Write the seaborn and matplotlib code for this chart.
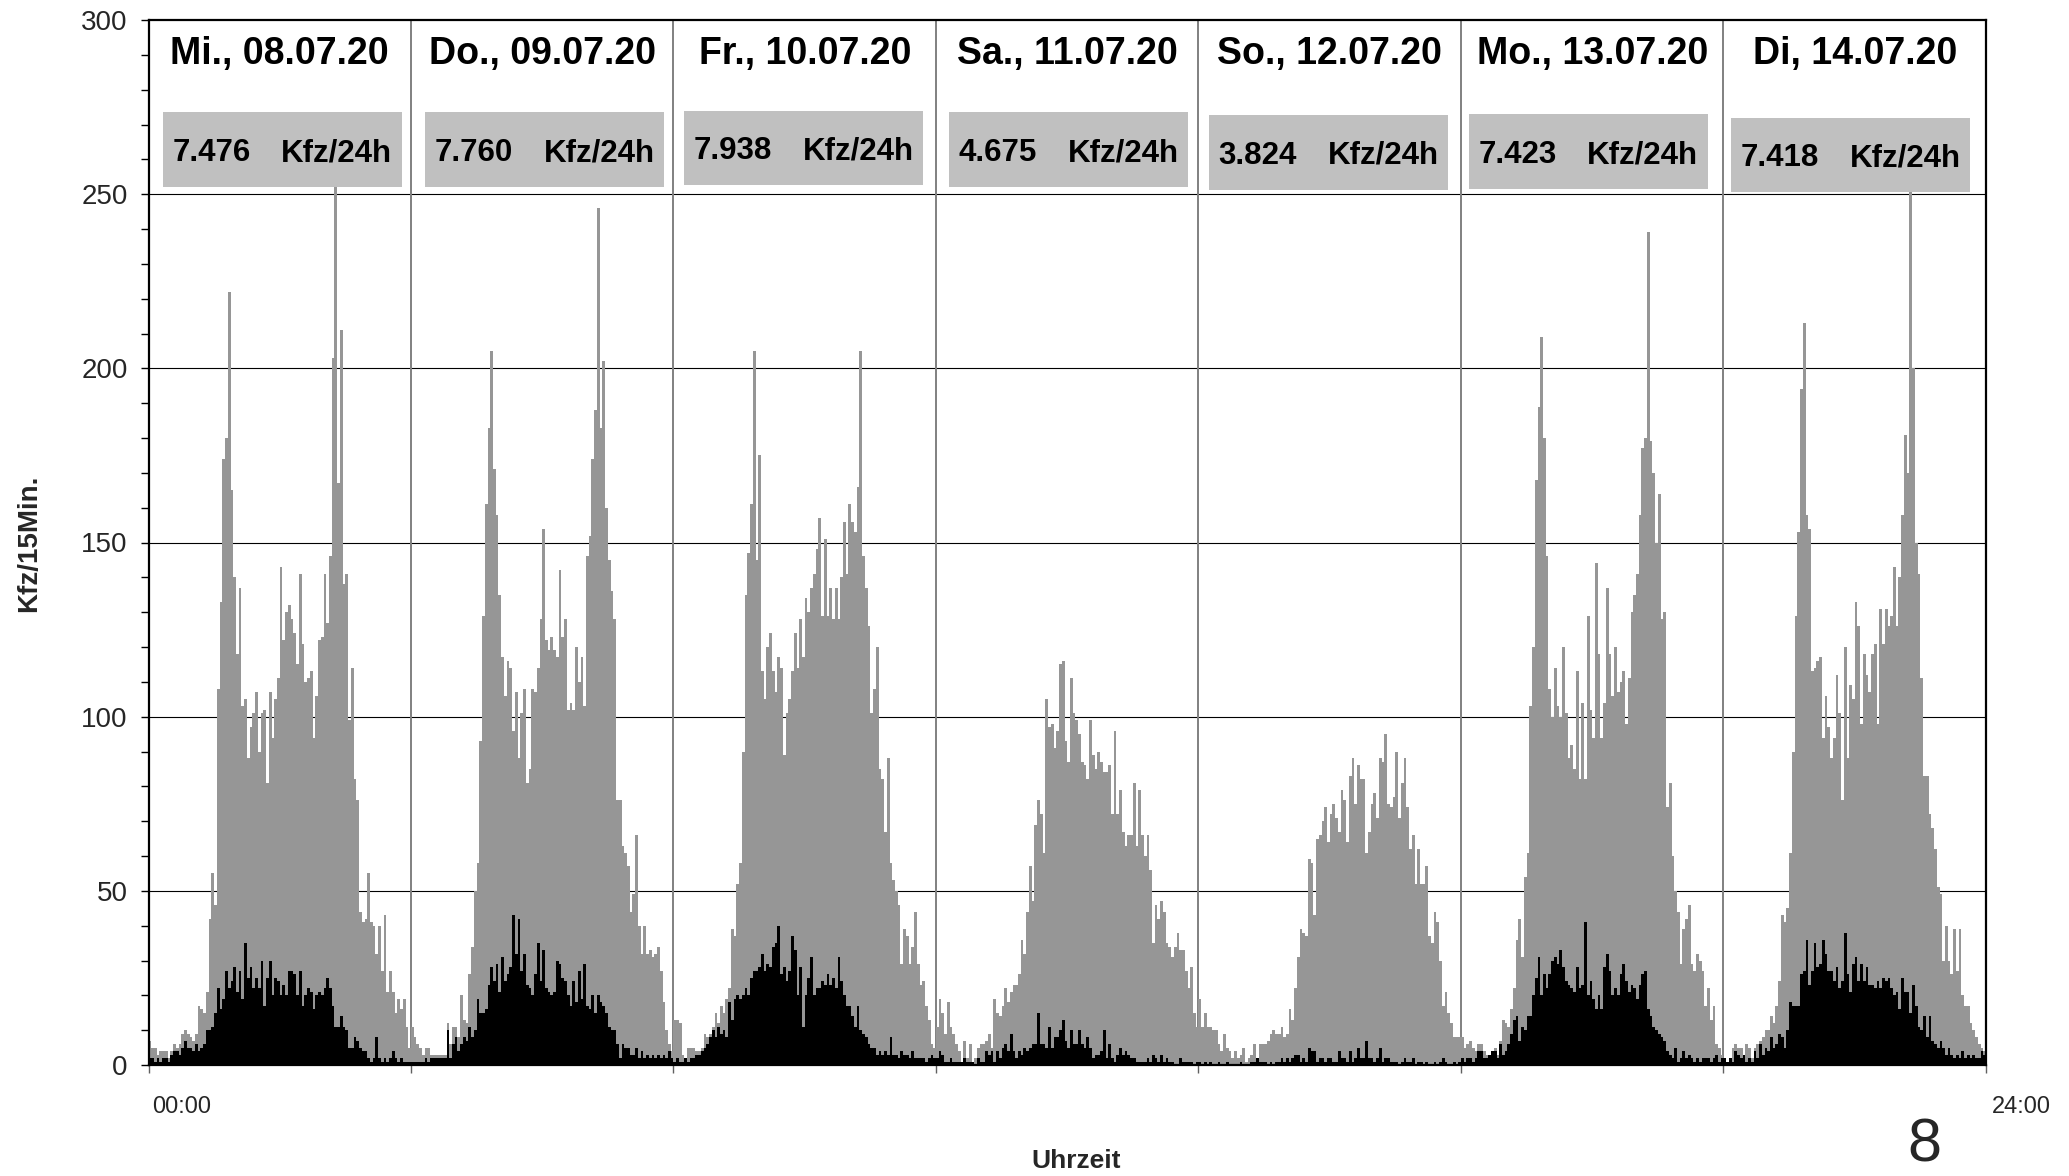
import numpy as np
import pandas as pd
import matplotlib
matplotlib.use("Agg")
import matplotlib.pyplot as plt
import seaborn as sns
from matplotlib.patches import Rectangle
from matplotlib.ticker import MultipleLocator

# ---------------- data ----------------
days = ["Mi., 08.07.20", "Do., 09.07.20", "Fr., 10.07.20", "Sa., 11.07.20",
        "So., 12.07.20", "Mo., 13.07.20", "Di, 14.07.20"]
daily_totals = ["7.476", "7.760", "7.938", "4.675", "3.824", "7.423", "7.418"]
daily_unit = "Kfz/24h"
y_label = "Kfz/15Min."
x_label = "Uhrzeit"
x_start_label = "00:00"
x_end_label = "24:00"
page_number = "8"

# total vehicles per 15 minutes (grey), 96 intervals per day
kfz_mi = [7, 5, 5, 3, 4, 4, 4, 2, 4, 6, 5, 6, 9, 10, 9, 8, 7, 9, 17, 16, 15, 21,
          42, 55, 46, 108, 133, 174, 180, 222, 165, 140, 118, 137,
          103, 105, 88, 97, 101, 107, 90, 101, 102, 81, 107, 94, 105, 111,
          143, 122, 130, 132, 128, 124, 115, 141, 121, 110, 111, 113,
          94, 106, 122, 123, 141, 127, 146, 203, 252, 167, 211, 138, 141, 99, 114, 82,
          76, 44, 41, 42, 55, 41, 40, 32, 40, 27, 43, 21, 27, 21, 15, 19, 16, 19, 11, 5]
kfz_do = [11, 8, 6, 5, 3, 5, 5, 3, 3, 3, 3, 3, 3, 12,
          6, 11, 11, 8, 20, 13, 12, 26, 34, 50, 58, 93, 129, 161, 183, 205,
          171, 158, 135, 117, 106, 116, 114, 96, 107, 88,
          101, 108, 81, 85, 108, 107, 114, 128, 154,
          122, 119, 123, 119, 117, 142, 123, 128,
          102, 104, 102, 120, 110, 117, 103, 146, 152, 174, 188, 246,
          183, 202, 160, 145, 136, 128, 76, 76, 63, 61, 57, 44, 49, 66, 40, 32, 40, 32,
          33, 31, 32, 34, 27, 18, 10, 6, 4]
kfz_fr = [13, 13, 12, 3, 2, 5, 5, 5, 4, 4, 5, 9, 8, 9,
          11, 15, 12, 17, 15, 19, 22, 39, 37, 52, 58, 90, 135, 147, 161,
          205, 145, 175, 113, 105, 120, 124, 113, 107, 117,
          114, 89, 101, 105, 113, 124, 114, 128, 117, 134,
          130, 137, 141, 148, 157, 129, 151, 129, 137, 128,
          137, 128, 140, 156, 141, 161, 156, 153, 166, 205,
          146, 137, 126, 101, 108, 120, 85, 82, 67, 88, 58, 53, 50, 46, 29, 39, 37, 29,
          34, 44, 29, 23, 24, 17, 13, 6, 5]
kfz_sa = [11, 19, 15, 9, 18, 11, 9, 6, 4,
          1, 7, 2, 6, 1, 2, 5, 6, 6, 7,
          9, 5, 19, 15, 14, 17, 22, 18, 21, 23,
          23, 26, 36, 32, 44, 57, 47, 69, 76, 72,
          61, 105, 97, 98, 91, 96, 115, 116, 93, 87,
          111, 101, 99, 95, 87, 86, 82, 99, 89, 85,
          90, 87, 84, 84, 86, 72, 96, 72, 79, 67,
          63, 66, 66, 81, 63, 79, 66, 60, 66, 56,
          35, 46, 42, 47, 44, 35, 34, 31, 34,
          38, 33, 33, 27, 22, 28, 15, 11]
kfz_so = [19, 11, 15, 11, 11, 10, 10, 6, 4, 9,
          5, 4, 2, 4, 2, 3, 5, 1, 2,
          3, 6, 2, 6, 6, 6, 7, 9, 10, 9,
          9, 11, 8, 9, 16, 13, 22, 31, 39, 38,
          37, 59, 58, 43, 65, 66, 70, 74, 64, 72,
          75, 71, 67, 79, 76, 64, 83, 88, 75, 86,
          82, 82, 61, 67, 75, 78, 71, 88, 87, 95,
          75, 74, 77, 90, 71, 81, 88, 74, 62, 66,
          52, 62, 52, 52, 57, 37, 35, 44, 41, 30,
          17, 21, 15, 12, 8, 8, 8]
kfz_mo = [8, 5, 6, 7, 5, 4, 6, 6, 4, 3,
          3, 4, 5, 3, 7, 13, 12, 11, 16, 22,
          36, 42, 31, 54, 61, 103, 120, 168, 189, 209,
          180, 146, 108, 100, 114, 103, 100, 120, 101, 88,
          92, 85, 113, 82, 104, 82, 129, 102, 94,
          144, 118, 94, 104, 137, 118, 106, 120, 107,
          110, 113, 98, 111, 130, 135, 141, 158, 177, 180,
          239, 179, 170, 150, 164, 128, 130, 74, 81, 60,
          50, 44, 29, 39, 42, 46, 29, 27, 32, 30,
          27, 17, 22, 13, 17, 6, 5, 3]
kfz_di = [2, 1, 2, 5, 6, 5, 5, 3, 6, 5,
          2, 5, 6, 7, 8, 10, 10, 14, 12, 17,
          24, 43, 41, 45, 61, 90, 129, 153, 194, 213,
          158, 154, 113, 114, 116, 117, 94, 106, 97, 88,
          94, 112, 101, 76, 120, 88, 109, 105, 133,
          126, 98, 118, 112, 107, 118, 121, 98, 131, 121,
          131, 126, 129, 143, 126, 140, 158, 181, 170, 252,
          200, 150, 141, 111, 83, 83, 72, 68, 62,
          51, 49, 30, 40, 30, 26, 39, 27, 39, 20,
          17, 17, 12, 10, 8, 6, 5, 4]

# heavy vehicles per 15 minutes (black)
sv_mi = [2, 2, 1, 2, 1, 2, 2, 1, 3, 4, 4, 3, 5, 7, 5, 5, 4, 6, 4, 5,
         6, 10, 10, 11, 15, 22, 16, 19, 27, 22, 24, 28, 21, 27, 19, 35, 25, 28, 22, 25,
         22, 30, 17, 25, 30, 20, 25, 24, 20, 23, 20, 27, 27, 26, 20, 27,
         17, 20, 22, 21, 16, 20, 21, 20, 22, 25, 22, 17, 11, 11, 14, 11, 10, 5, 5, 8,
         7, 5, 4, 4, 2, 1, 2, 8, 2, 1, 2, 1, 2, 4, 2, 1, 2, 1, 1, 1]
sv_do = [1, 1, 1, 1, 1, 2, 1, 2, 2, 2, 2, 2, 2, 10,
         2, 6, 8, 4, 6, 8, 7, 11, 8, 10,
         19, 15, 15, 16, 23, 28, 24, 29, 21, 31,
         24, 26, 28, 43, 32, 42, 27, 32, 23, 22,
         20, 26, 35, 24, 33, 22, 21, 20, 21,
         30, 29, 25, 24, 20, 17, 24, 18, 27,
         19, 29, 17, 16, 20, 15, 20, 18, 17, 15,
         11, 10, 10, 6, 2, 6, 5, 5, 3, 3,
         5, 2, 4, 2, 3, 2, 3, 2, 3,
         2, 3, 2, 4, 2]
sv_fr = [1, 2, 1, 1, 2, 1, 2, 2, 3,
         3, 4, 5, 6, 8, 10, 8, 11, 9, 10,
         8, 18, 13, 19, 20, 19, 20, 22, 20, 25,
         27, 27, 28, 32, 27, 29, 28, 34, 35, 40,
         26, 28, 24, 27, 37, 33, 20, 28, 11, 20,
         25, 31, 20, 22, 22, 24, 23, 26, 23,
         25, 22, 31, 24, 20, 17, 17, 14, 11, 17,
         10, 9, 8, 6, 5, 5, 3, 4, 3, 4,
         3, 8, 3, 3, 2, 4, 3, 3, 2, 4,
         2, 2, 2, 2, 1, 2, 3, 2]
sv_sa = [2, 4, 3, 1, 1, 2, 1, 1, 1,
         1, 2, 1, 1, 1, 0, 2, 1, 1, 4,
         3, 4, 1, 4, 2, 5, 6, 4, 9, 4,
         2, 4, 3, 5, 4, 5, 6, 6, 15, 6,
         6, 5, 11, 5, 8, 8, 10, 13, 7, 5,
         10, 6, 6, 10, 6, 5, 8, 5, 2, 3,
         3, 4, 10, 2, 6, 2, 1, 3, 5, 3,
         4, 3, 2, 2, 1, 1, 1, 1, 2, 1,
         3, 2, 1, 3, 1, 2, 1, 1, 0, 0,
         2, 1, 1, 1, 1, 0, 1]
sv_so = [1, 0, 1, 0, 1, 0, 0, 1, 0, 0, 1, 0, 0, 0, 0, 1, 0, 0, 0, 1, 1,
         2, 1, 1, 1, 0, 1, 0, 1, 1, 2, 1, 2, 1, 2, 3, 3, 1, 2, 1, 5,
         4, 4, 1, 2, 2, 1, 2, 2, 1, 1, 4, 2, 2, 1, 4, 1, 2, 5, 2, 2,
         7, 2, 2, 1, 2, 5, 1, 2, 2, 1, 1, 1, 0, 1, 2, 1, 1, 2, 0, 1,
         1, 0, 1, 0, 0, 1, 0, 1, 2, 1, 0, 0, 1, 0, 1]
sv_mo = [2, 1, 2, 2, 1, 2, 4, 4, 2,
         2, 3, 4, 4, 2, 6, 3, 4, 6, 9,
         13, 14, 7, 11, 10, 14, 14, 20, 25, 31,
         20, 26, 22, 26, 30, 31, 29, 33, 28, 24,
         23, 22, 21, 28, 22, 23, 41, 20, 24, 19,
         16, 20, 16, 28, 32, 27, 20, 22, 20, 26,
         29, 24, 21, 23, 22, 19, 23, 26, 27, 16,
         14, 11, 10, 9, 8, 7, 4, 3, 2,
         5, 1, 2, 4, 2, 3, 2, 1, 2, 1,
         2, 2, 2, 1, 2, 3, 1, 2]
sv_di = [2, 1, 2, 1, 4, 3, 2, 3, 1, 2,
         1, 4, 2, 6, 3, 5, 4, 8, 5, 6,
         9, 8, 5, 10, 18, 17, 17, 17, 26, 27,
         36, 23, 27, 35, 28, 29, 36, 32, 27, 27,
         24, 28, 22, 24, 38, 26, 21, 29, 31,
         24, 29, 24, 28, 23, 23, 22, 24, 22, 25,
         24, 25, 22, 20, 21, 16, 25, 21, 21, 15,
         23, 17, 11, 10, 14, 8, 14, 7, 6,
         5, 7, 5, 3, 5, 3, 2, 3, 2, 4,
         2, 3, 2, 3, 2, 2, 4, 3]

kfz_days = [kfz_mi, kfz_do, kfz_fr, kfz_sa, kfz_so, kfz_mo, kfz_di]
sv_days = [sv_mi, sv_do, sv_fr, sv_sa, sv_so, sv_mo, sv_di]
lens = [(len(a), len(b)) for a, b in zip(kfz_days, sv_days)]
assert all(a == 96 and b == 96 for a, b in lens), lens

N = 96
rows = []
for d, (k, s) in enumerate(zip(kfz_days, sv_days)):
    for i in range(N):
        rows.append({"pos": d * N + i + 0.5, "kfz": k[i], "sv": s[i]})
df = pd.DataFrame(rows)

# layout of the grey total boxes (offset from day start in intervals, bottom value)
box_left_offset = [5.3, 5.3, 3.9, 4.8, 3.9, 2.9, 2.9]
box_bottom = [252.1, 252.1, 252.6, 252.1, 251.3, 251.5, 250.6]
BOX_W, BOX_H = 87.3, 21.4

# ---------------- style ----------------
sns.set_theme(style="white")
plt.rcParams["font.family"] = ["Liberation Sans", "DejaVu Sans"]

W, H = 2069, 1176
fig = plt.figure(figsize=(W / 100, H / 100), dpi=100)
ax = fig.add_axes([148.5 / W, 1 - 1065 / H, (1986 - 148.5) / W, (1065 - 20) / H])

GREY = "#969696"
sns.barplot(data=df, x="pos", y="kfz", native_scale=True, color=GREY, saturation=1,
            width=1, linewidth=0, errorbar=None, ax=ax, antialiased=False, zorder=2)
sns.barplot(data=df, x="pos", y="sv", native_scale=True, color="black", saturation=1,
            width=1, linewidth=0, errorbar=None, ax=ax, antialiased=False, zorder=3)

total = N * len(days)
ax.set_xlim(0, total)
ax.set_ylim(0, 300)

# grid: horizontal black lines, vertical day separators grey
for yv in range(50, 300, 50):
    ax.axhline(yv, color="black", lw=0.8, zorder=1)
for d in range(1, len(days)):
    ax.axvline(d * N, color="#808080", lw=1.4, zorder=1)

# ticks
ax.set_yticks(range(0, 301, 50))
ax.yaxis.set_minor_locator(MultipleLocator(10))
ax.tick_params(axis="y", which="both", direction="out", length=6, width=1,
               color="black", labelsize=20, pad=9, left=True)
ax.set_xticks([d * N for d in range(len(days) + 1)])
ax.set_xticklabels([])
ax.tick_params(axis="x", which="major", direction="out", length=6, width=1,
               color="#606060", bottom=True)
ax.set_xlabel("")
ax.set_ylabel("")

for s in ax.spines.values():
    s.set_color("black")
    s.set_linewidth(1.6)
    s.set_zorder(6)

# day titles and daily totals
for d, (name, tot) in enumerate(zip(days, daily_totals)):
    x0 = d * N
    ax.text(x0 + N / 2, 287.3, name, ha="center", va="baseline",
            fontsize=27, fontweight="bold", color="black", zorder=7)
    bl = x0 + box_left_offset[d]
    bb = box_bottom[d]
    ax.add_patch(Rectangle((bl, bb), BOX_W, BOX_H,
                           facecolor="#C0C0C0", edgecolor="none", zorder=5))
    ax.text(bl + 3.4, bb + 7.4, tot, ha="left", va="baseline",
            fontsize=22.5, fontweight="bold", color="black", zorder=7)
    ax.text(bl + BOX_W - 3.4, bb + 7.4, daily_unit, ha="right", va="baseline",
            fontsize=22.5, fontweight="bold", color="black", zorder=7)

# axis labels and extra texts
fig.text(29 / W, 1 - 543 / H, y_label, rotation=90, ha="center", va="center",
         fontsize=20, fontweight="bold")
fig.text(1076 / W, 3 / H, x_label, ha="center", va="bottom",
         fontsize=19, fontweight="bold")
fig.text(152 / W, 1 - 1107 / H, x_start_label, ha="left", va="center", fontsize=17)
fig.text(1992 / W, 1 - 1107 / H, x_end_label, ha="left", va="center", fontsize=17)
fig.text(1924 / W, 2 / H, page_number, ha="center", va="bottom", fontsize=44)

fig.savefig("out.png", dpi=100)
